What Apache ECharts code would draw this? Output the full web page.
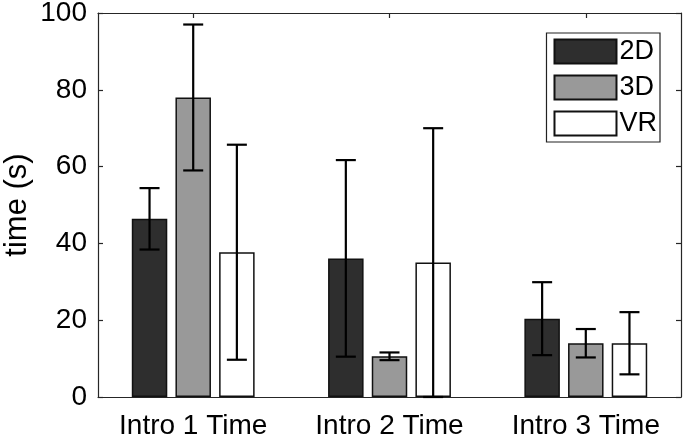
<!DOCTYPE html>
<html>
<head>
<meta charset="utf-8">
<script src="https://cdn.jsdelivr.net/npm/echarts@6/dist/echarts.min.js"></script>
<style>
html,body{margin:0;padding:0;background:#fff;}
#c{width:685px;height:439px;}
</style>
</head>
<body>
<div id="c"></div>
<script>
var categories = ['Intro 1 Time', 'Intro 2 Time', 'Intro 3 Time'];
var seriesNames = ['2D', '3D', 'VR'];
var mean2D = [46.4, 36.1, 20.4];
var mean3D = [78.0, 10.6, 14.0];
var meanVR = [37.7, 35.0, 14.0];
var err2D = [8.0, 25.6, 9.5];
var err3D = [19.0, 1.0, 3.7];
var errVR = [28.0, 35.0, 8.1];
var yTicks = [0, 20, 40, 60, 80, 100];

var means = [mean2D, mean3D, meanVR];
var errs = [err2D, err3D, errVR];
var colors = ['#2e2e2e', '#999999', '#ffffff'];
var FONT = 'Liberation Sans, Arial, sans-serif';
var BAR_W = 35.5, GAP_PCT = 23;
var step = BAR_W * (1 + GAP_PCT / 100);
var catX = categories.map(function (c, i) { return i + 1; });

var chart = echarts.init(document.getElementById('c'), null, {renderer: 'canvas'});

var series = [];
seriesNames.forEach(function (name, s) {
  series.push({
    name: name,
    type: 'bar',
    barWidth: BAR_W,
    barGap: GAP_PCT + '%',
    data: catX.map(function (x, i) { return [x, means[s][i]]; }),
    itemStyle: {color: colors[s], borderColor: '#111', borderWidth: 1.5},
    emphasis: {disabled: true},
    z: 2
  });
});
seriesNames.forEach(function (name, s) {
  var off = (s - 1) * step;
  series.push({
    type: 'custom',
    silent: true,
    z: 5,
    data: catX.map(function (x, i) { return [x, means[s][i] - errs[s][i], means[s][i] + errs[s][i]]; }),
    renderItem: function (params, api) {
      var lo = api.coord([api.value(0), api.value(1)]);
      var hi = api.coord([api.value(0), api.value(2)]);
      var x = lo[0] + off;
      var hw = 10;
      var st = {stroke: '#000', lineWidth: 2.2};
      return {
        type: 'group',
        children: [
          {type: 'line', shape: {x1: x, y1: lo[1], x2: x, y2: hi[1]}, style: st},
          {type: 'line', shape: {x1: x - hw, y1: lo[1], x2: x + hw, y2: lo[1]}, style: st},
          {type: 'line', shape: {x1: x - hw, y1: hi[1], x2: x + hw, y2: hi[1]}, style: st}
        ]
      };
    }
  });
});

var axisLineStyle = {color: '#262626', width: 1.2};
chart.setOption({
  animation: false,
  backgroundColor: '#fff',
  grid: {left: 98, right: 4, top: 13, bottom: 42, containLabel: false, outerBoundsMode: 'none'},
  legend: {
    data: seriesNames,
    right: 25, top: 33,
    orient: 'vertical',
    icon: 'rect',
    itemWidth: 62, itemHeight: 24, itemGap: 9,
    padding: [5, 3, 5, 7],
    borderColor: '#222', borderWidth: 1.2,
    backgroundColor: '#fff',
    textStyle: {fontFamily: FONT, fontSize: 27, color: '#000', padding: [0, 0, 0, -2]},
    selectedMode: false
  },
  xAxis: [{
    type: 'value', min: 0.515, max: 3.485,
    position: 'bottom',
    splitLine: {show: false},
    axisLine: {show: true, onZero: false, lineStyle: axisLineStyle},
    axisTick: {show: true, inside: true, length: 5, customValues: catX, lineStyle: axisLineStyle},
    axisLabel: {
      customValues: catX, margin: 15, fontFamily: FONT, fontSize: 28, color: '#000',
      formatter: function (v) { return categories[Math.round(v) - 1]; }
    }
  }, {
    type: 'value', min: 0.515, max: 3.485,
    position: 'top',
    splitLine: {show: false},
    axisLine: {show: true, onZero: false, lineStyle: axisLineStyle},
    axisTick: {show: true, inside: true, length: 5, customValues: catX, lineStyle: axisLineStyle},
    axisLabel: {show: false}
  }],
  yAxis: [{
    type: 'value', min: 0, max: 100, interval: 20,
    position: 'left',
    name: 'time (s)', nameLocation: 'middle', nameGap: 65, nameMoveOverlap: false,
    nameTextStyle: {fontFamily: FONT, fontSize: 31, color: '#000'},
    splitLine: {show: false},
    axisLine: {show: true, lineStyle: axisLineStyle},
    axisTick: {show: true, inside: true, length: 5, lineStyle: axisLineStyle},
    axisLabel: {margin: 11, fontFamily: FONT, fontSize: 28, color: '#000',
      formatter: function (v) { return yTicks.indexOf(v) >= 0 ? String(v) : ''; }}
  }, {
    type: 'value', min: 0, max: 100, interval: 20,
    position: 'right',
    splitLine: {show: false},
    axisLine: {show: true, lineStyle: axisLineStyle},
    axisTick: {show: true, inside: true, length: 5, lineStyle: axisLineStyle},
    axisLabel: {show: false}
  }],
  series: series
});
</script>
</body>
</html>
